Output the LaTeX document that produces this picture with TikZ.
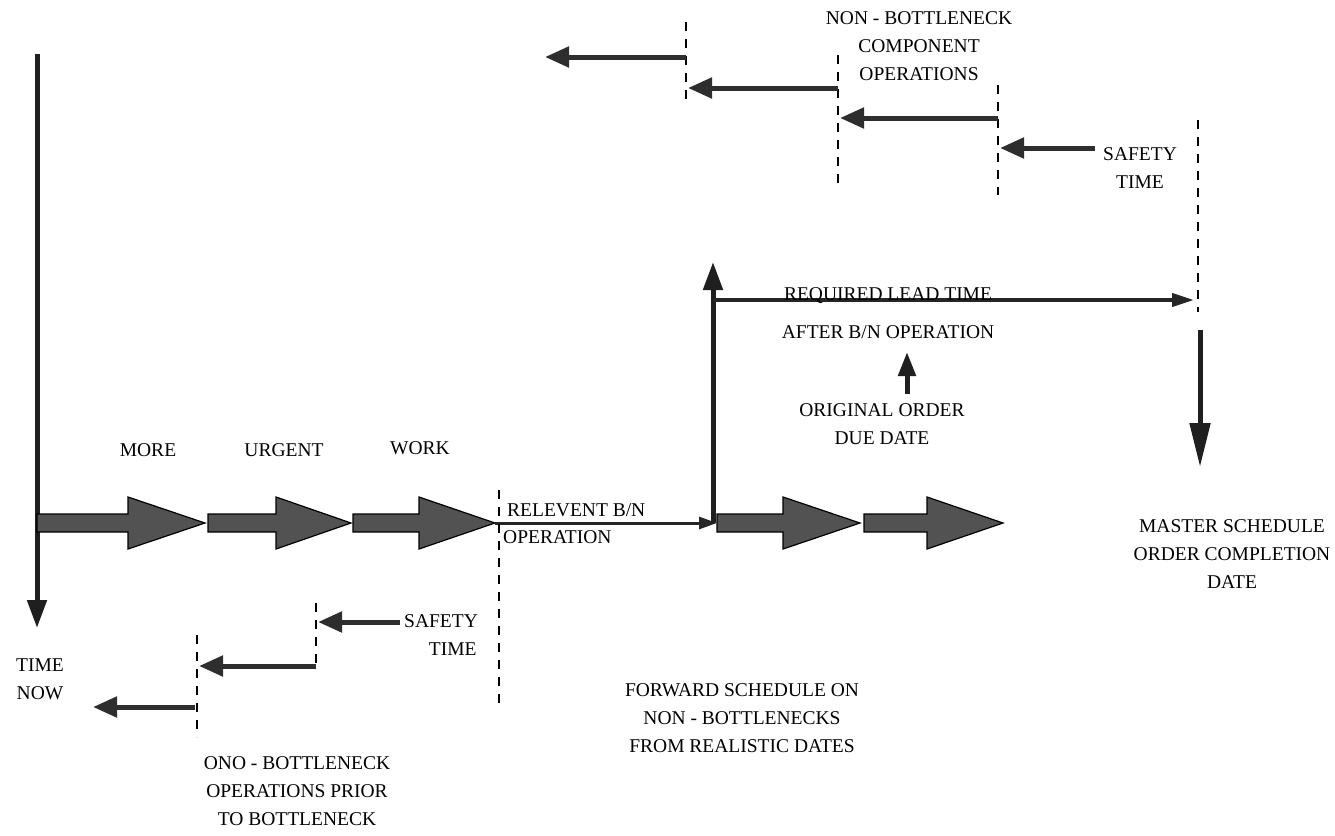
\documentclass[tikz,border=0pt]{standalone}
\usepackage{fontspec}
\setmainfont{Liberation Serif}
\usetikzlibrary{arrows.meta}
\begin{document}
\begin{tikzpicture}[x=1pt,y=-1pt,
  lbl/.style={font=\fontsize{19.5}{28}\selectfont, align=center, inner sep=0pt},
  fat/.style={fill=black!68, draw=black, line width=1.2pt, line join=miter},
  flow/.style={line width=5pt, draw=black!82, -{Triangle[length=24pt,width=20pt]}},
  slim/.style={line width=3pt, draw=black!85, -{Triangle[length=18pt,width=12pt]}},
  axis/.style={line width=5pt, draw=black!88, -{Triangle[length=28pt,width=19pt]}},
  marker/.style={line width=2.6pt, draw=black, dash pattern=on 9pt off 8pt},
]
\useasboundingbox (0,0) rectangle (1335,835);

% wide block arrow: start x, head base x, tip x, centre y
\newcommand\blockarrow[4]{%
  \filldraw[fat] (#1,#4-9) -- (#2,#4-9) -- (#2,#4-26) -- (#3,#4)
    -- (#2,#4+26) -- (#2,#4+9) -- (#1,#4+9) -- cycle;}

% ---------- time axis ----------
\coordinate (axTop) at (37,54);
\coordinate (axEnd) at (37,628);
\draw[axis] (axTop) -- (axEnd);

% ---------- main work flow ----------
\blockarrow{37}{128}{205}{523}
\blockarrow{208}{276}{351}{523}
\blockarrow{353}{419}{495}{523}
\blockarrow{717}{783}{860}{523}
\blockarrow{864}{927}{1003}{523}

\coordinate (bnStart) at (495,523);
\coordinate (bnEnd) at (717,523);
\draw[slim] (bnStart) -- (bnEnd);

% bottleneck markers below the flow
\coordinate (mA1) at (499,490); \coordinate (mA2) at (499,710);
\coordinate (mB1) at (316,603); \coordinate (mB2) at (316,668);
\coordinate (mC1) at (197,635); \coordinate (mC2) at (197,737);
\draw[marker] (mA1) -- (mA2);
\draw[marker] (mB1) -- (mB2);
\draw[marker] (mC1) -- (mC2);

\coordinate (sA) at (400,622); \coordinate (sB) at (318,622);
\coordinate (pA) at (316,666); \coordinate (pB) at (199,666);
\coordinate (qA) at (195,707); \coordinate (qB) at (93,707);
\draw[flow] (sA) -- (sB);
\draw[flow] (pA) -- (pB);
\draw[flow] (qA) -- (qB);

% ---------- lead time after the bottleneck ----------
\coordinate (upBase) at (713,523);
\coordinate (upTip) at (713,262);
\draw[axis] (upBase) -- (upTip);

\coordinate (ltStart) at (713,300);
\coordinate (ltEnd) at (1194,300);
\draw[line width=4pt, draw=black!85, -{Triangle[length=22pt,width=13pt]}] (ltStart) -- (ltEnd);

\coordinate (dueBase) at (907,394);
\coordinate (dueTip) at (907,352);
\draw[line width=5pt, draw=black!88, -{Triangle[length=24pt,width=17pt]}] (dueBase) -- (dueTip);

% master schedule marker
\coordinate (msTop) at (1198,120); \coordinate (msMid) at (1198,312);
\coordinate (msSolid) at (1200,330); \coordinate (msEnd) at (1200,467);
\draw[marker] (msTop) -- (msMid);
\draw[line width=5pt, draw=black!88, -{Triangle[length=44pt,width=20pt]}] (msSolid) -- (msEnd);

% ---------- component operations (top) ----------
\coordinate (tA1) at (686,22);  \coordinate (tA2) at (686,100);
\coordinate (tB1) at (838,55);  \coordinate (tB2) at (838,190);
\coordinate (tC1) at (998,85);  \coordinate (tC2) at (998,195);
\draw[marker] (tA1) -- (tA2);
\draw[marker] (tB1) -- (tB2);
\draw[marker] (tC1) -- (tC2);

\coordinate (cA) at (686,57);  \coordinate (cB) at (545,57);
\coordinate (dA) at (838,88);  \coordinate (dB) at (688,88);
\coordinate (eA) at (998,118); \coordinate (eB) at (840,118);
\coordinate (fA) at (1095,148); \coordinate (fB) at (1000,148);
\draw[flow] (cA) -- (cB);
\draw[flow] (dA) -- (dB);
\draw[flow] (eA) -- (eB);
\draw[flow] (fA) -- (fB);

% ---------- labels ----------
\node[lbl] (more) at (148,450) {MORE};
\node[lbl] (urgent) at (284,450) {URGENT};
\node[lbl] (work) at (420,448) {WORK};
\node[lbl, anchor=west] (rel) at (507,510) {RELEVENT B/N};
\node[lbl, anchor=west] (relop) at (503,537) {OPERATION};
\node[lbl] (req) at (888,296) {REQUIRED LEAD TIME};
\node[lbl] (after) at (888,332) {AFTER B/N OPERATION};
\node[lbl] (due) at (882,424) {ORIGINAL ORDER\\DUE DATE};
\node[lbl] (master) at (1232,554) {MASTER SCHEDULE\\ORDER COMPLETION\\DATE};
\node[lbl] (safeTop) at (1140,168) {SAFETY\\TIME};
\node[lbl] (comp) at (919,46) {NON - BOTTLENECK\\COMPONENT\\OPERATIONS};
\node[lbl] (safeLow) at (441,635) {SAFETY\\\hspace*{1.2em}TIME};
\node[lbl] (now) at (40,679) {TIME\\NOW};
\node[lbl] (prior) at (297,791) {ONO - BOTTLENECK\\OPERATIONS PRIOR\\TO BOTTLENECK};
\node[lbl] (fwd) at (742,718) {FORWARD SCHEDULE ON\\NON - BOTTLENECKS\\FROM REALISTIC DATES};
\end{tikzpicture}
\end{document}
